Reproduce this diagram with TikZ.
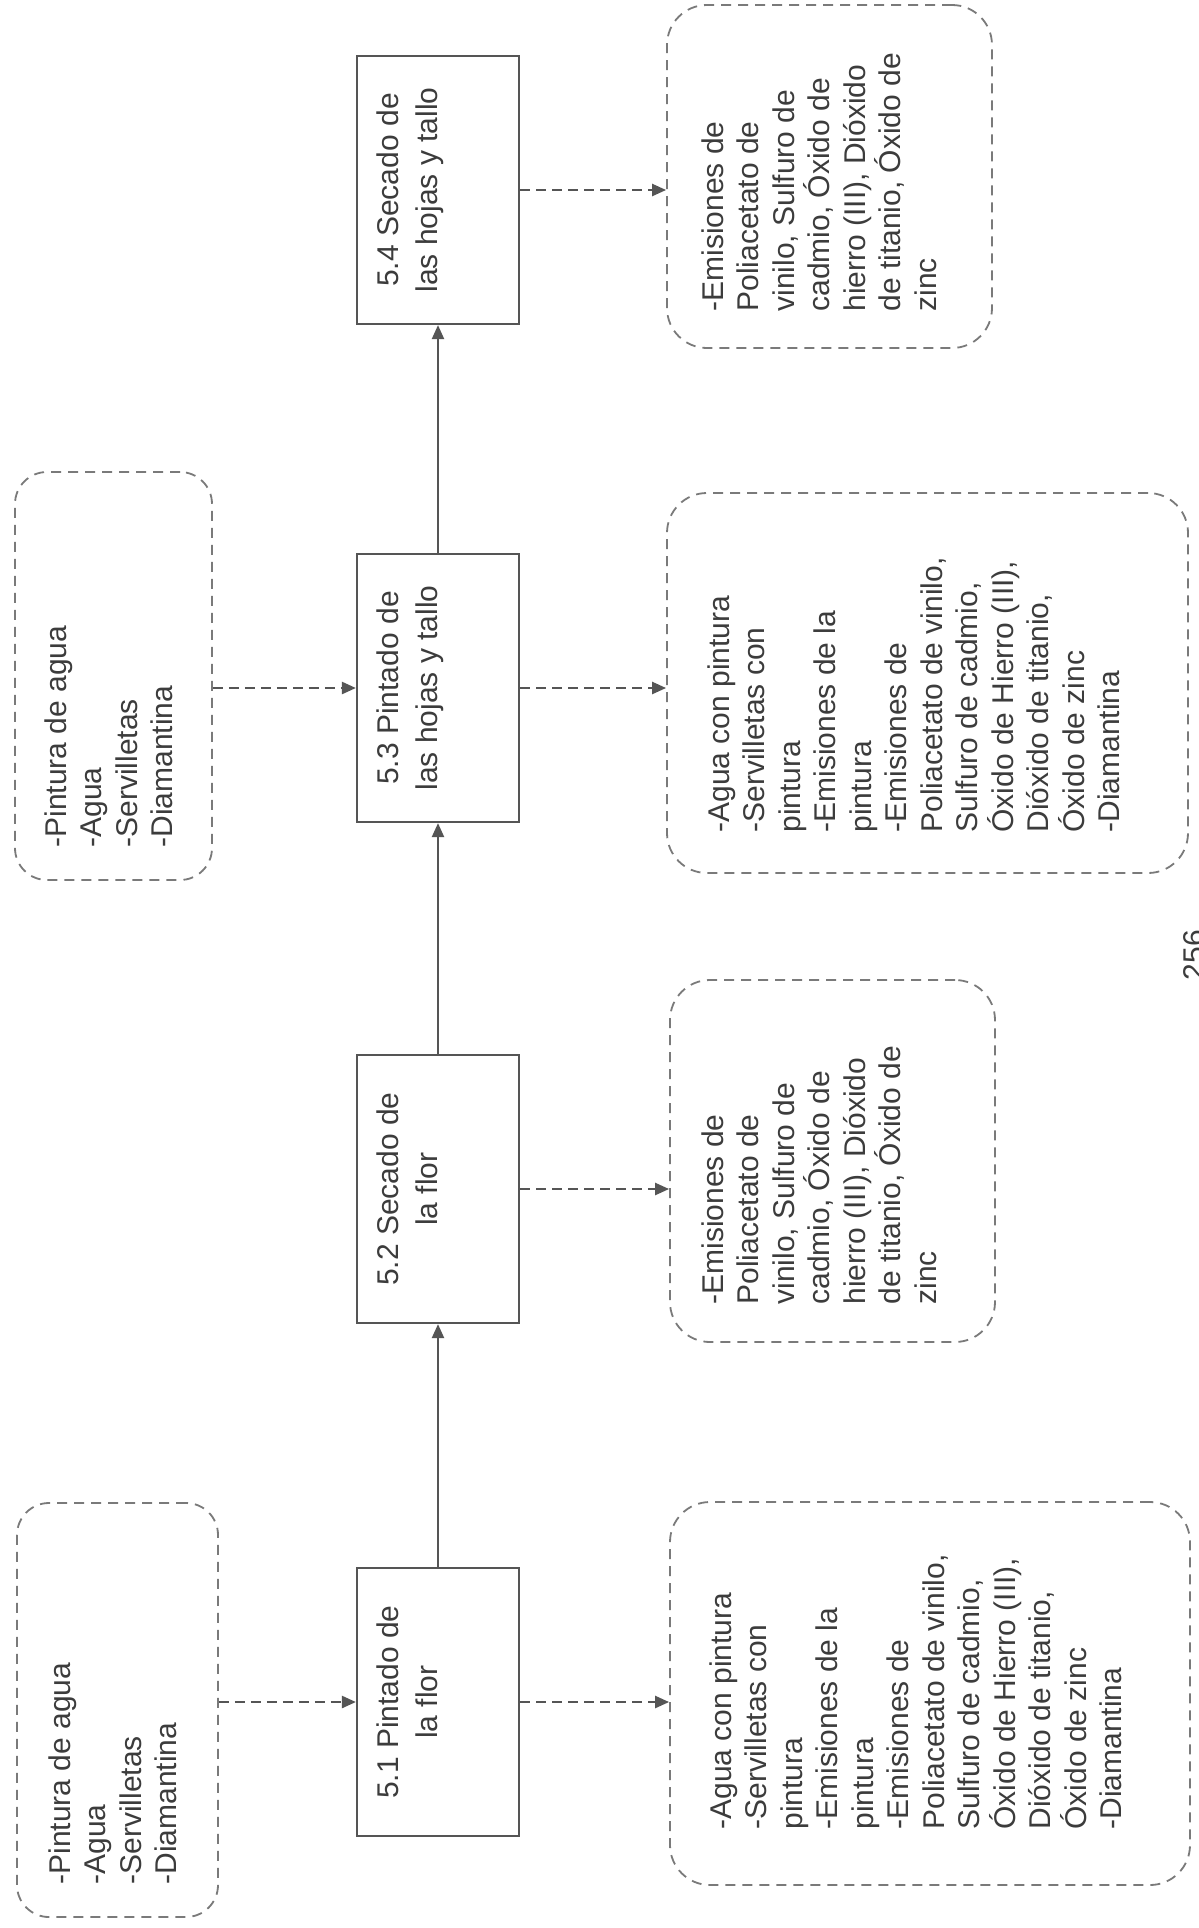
\documentclass[tikz,border=0pt]{standalone}
\usepackage{fontspec}
\setmainfont{Liberation Sans}
\usetikzlibrary{arrows.meta}
\definecolor{inkgray}{HTML}{3C3C3C}
\definecolor{linegray}{HTML}{555555}
\definecolor{dashgray}{HTML}{7A7A7A}

\begin{document}
\begin{tikzpicture}[x=0.5pt, y=-0.5pt,
    procbox/.style={draw=linegray, line width=1.1pt, minimum width=81pt, minimum height=134pt, inner sep=0pt},
    listbox/.style={draw=dashgray, line width=0.9pt, dash pattern=on 5pt off 3.5pt, rounded corners=16pt, inner sep=0pt},
    boxtext/.style={rotate=90, inner sep=0pt, text=inkgray, font=\fontsize{15}{17.75}\selectfont, align=left, anchor=north west},
    proctext/.style={rotate=90, inner sep=0pt, text=inkgray, font=\fontsize{15}{19.5}\selectfont, align=center, anchor=north},
    sideflow/.style={draw=linegray, line width=1.2pt, dash pattern=on 5pt off 3pt, -{Triangle[length=7pt,width=6pt]}},
    mainflow/.style={draw=linegray, line width=1.1pt, -{Triangle[length=7pt,width=6pt]}}
]
\useasboundingbox[fill=white] (0,0) rectangle (1199,1928);

% process steps
\node[procbox] (p1) at (438,1702) {};
\node[procbox] (p2) at (438,1189) {};
\node[procbox] (p3) at (438,688) {};
\node[procbox] (p4) at (438,190) {};
\node[proctext] (p1t) at ([xshift=10pt]p1.west) {5.1 Pintado de\\la flor};
\node[proctext] (p2t) at ([xshift=10pt]p2.west) {5.2 Secado de\\la flor};
\node[proctext] (p3t) at ([xshift=10pt]p3.west) {5.3 Pintado de\\las hojas y tallo};
\node[proctext] (p4t) at ([xshift=10pt]p4.west) {5.4 Secado de\\las hojas y tallo};

% inputs
\node[listbox, minimum width=100.5pt, minimum height=207pt] (in1) at (117.5,1710) {};
\node[listbox, minimum width=98.5pt, minimum height=204pt] (in2) at (113.5,676) {};
\node[boxtext] (in1t) at (48,1885) {-Pintura de agua\\-Agua\\-Servilletas\\-Diamantina};
\node[boxtext] (in2t) at (44,848) {-Pintura de agua\\-Agua\\-Servilletas\\-Diamantina};

% outputs
\node[listbox, rounded corners=20pt, minimum width=260pt, minimum height=191.5pt] (o1) at (930,1693.5) {};
\node[listbox, rounded corners=20pt, minimum width=162.5pt, minimum height=181pt] (o2) at (832.5,1161) {};
\node[listbox, rounded corners=20pt, minimum width=260.5pt, minimum height=190pt] (o3) at (927.5,683) {};
\node[listbox, rounded corners=20pt, minimum width=162.5pt, minimum height=171.5pt] (o4) at (829.5,176.5) {};
\node[boxtext] (o1t) at (709,1830) {-Agua con pintura\\-Servilletas con\\pintura\\-Emisiones de la\\pintura\\-Emisiones de\\Poliacetato de vinilo,\\Sulfuro de cadmio,\\Óxido de Hierro (III),\\Dióxido de titanio,\\Óxido de zinc\\-Diamantina};
\node[boxtext] (o2t) at (701,1305) {-Emisiones de\\Poliacetato de\\vinilo, Sulfuro de\\cadmio, Óxido de\\hierro (III), Dióxido\\de titanio, Óxido de\\zinc};
\node[boxtext] (o3t) at (707,833) {-Agua con pintura\\-Servilletas con\\pintura\\-Emisiones de la\\pintura\\-Emisiones de\\Poliacetato de vinilo,\\Sulfuro de cadmio,\\Óxido de Hierro (III),\\Dióxido de titanio,\\Óxido de zinc\\-Diamantina};
\node[boxtext] (o4t) at (701,312) {-Emisiones de\\Poliacetato de\\vinilo, Sulfuro de\\cadmio, Óxido de\\hierro (III), Dióxido\\de titanio, Óxido de\\zinc};

\node[rotate=90, inner sep=0pt, text=inkgray, font=\fontsize{15}{18}\selectfont] (pagenum) at (1194,955) {256};

% main flow
\draw[mainflow] (p1.north) -- (p2.south);
\draw[mainflow] (p2.north) -- (p3.south);
\draw[mainflow] (p3.north) -- (p4.south);

% inputs and outputs
\draw[sideflow] (in1.east |- p1.west) -- (p1.west);
\draw[sideflow] (in2.east |- p3.west) -- (p3.west);
\draw[sideflow] (p1.east) -- (p1.east -| o1.west);
\draw[sideflow] (p2.east) -- (p2.east -| o2.west);
\draw[sideflow] (p3.east) -- (p3.east -| o3.west);
\draw[sideflow] (p4.east) -- (p4.east -| o4.west);
\end{tikzpicture}
\end{document}
